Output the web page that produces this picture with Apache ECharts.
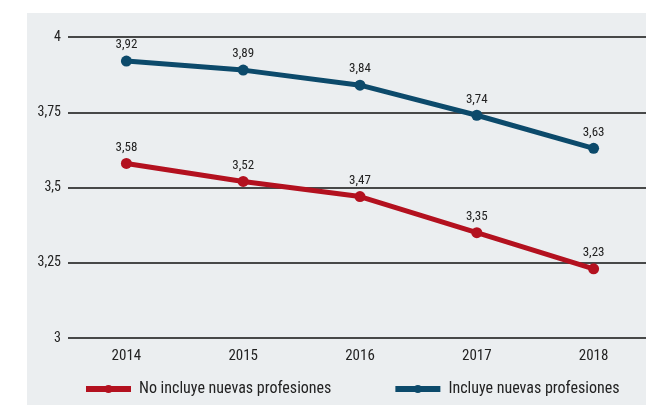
<!DOCTYPE html>
<html>
<head>
<meta charset="utf-8">
<script src="https://cdn.jsdelivr.net/npm/echarts@6/dist/echarts.min.js"></script>
<style>
  html, body { margin: 0; padding: 0; background: #ffffff; overflow: hidden; }
  #chart { width: 660px; height: 405px; }
</style>
</head>
<body>
<div id="chart"></div>
<script>
const years = ['2014', '2015', '2016', '2017', '2018'];
const noIncluye = [3.58, 3.52, 3.47, 3.35, 3.23];
const incluye = [3.92, 3.89, 3.84, 3.74, 3.63];
const yTicks = [3, 3.25, 3.5, 3.75, 4];

const font = '"Roboto Condensed", "DejaVu Sans Condensed", sans-serif';
const fmt = v => String(v).replace('.', ',');

const chart = echarts.init(document.getElementById('chart'));

const lineSeries = (name, data, color) => ({
  name: name,
  type: 'line',
  data: data,
  symbol: 'circle',
  symbolSize: 11,
  color: color,
  lineStyle: { width: 5, color: color },
  itemStyle: { color: color },
  label: {
    show: true,
    position: 'top',
    distance: 4,
    color: '#222',
    fontFamily: font,
    fontSize: 13,
    formatter: p => fmt(p.value)
  }
});

chart.setOption({
  animation: false,
  backgroundColor: '#ffffff',
  textStyle: { fontFamily: font },
  graphic: [{
    type: 'rect',
    z: -10,
    shape: { x: 27, y: 13, width: 640, height: 392 },
    style: { fill: '#ebeef0' }
  }],
  grid: { left: 68, right: 8, top: 37, bottom: 67, containLabel: false },
  legend: {
    top: 381,
    left: 83,
    padding: 0,
    itemGap: 61,
    itemWidth: 45,
    itemHeight: 10,
    lineStyle: { width: 6 },
    textStyle: { fontFamily: font, fontSize: 16, color: '#222', padding: [0, 0, 0, 3] },
    data: ['No incluye nuevas profesiones', 'Incluye nuevas profesiones']
  },
  xAxis: {
    type: 'category',
    data: years,
    axisLine: { show: false },
    axisTick: { show: false },
    axisLabel: { color: '#222', fontFamily: font, fontSize: 15, margin: 11 }
  },
  yAxis: {
    type: 'value',
    min: yTicks[0],
    max: yTicks[yTicks.length - 1],
    interval: 0.25,
    axisLine: { show: false },
    axisTick: { show: false },
    axisLabel: { color: '#222', fontFamily: font, fontSize: 14, margin: 7, formatter: v => fmt(v) },
    splitLine: { lineStyle: { color: '#111', width: 1.5 } }
  },
  series: [
    lineSeries('No incluye nuevas profesiones', noIncluye, '#b3111f'),
    lineSeries('Incluye nuevas profesiones', incluye, '#0c4a6b')
  ]
});
</script>
</body>
</html>
